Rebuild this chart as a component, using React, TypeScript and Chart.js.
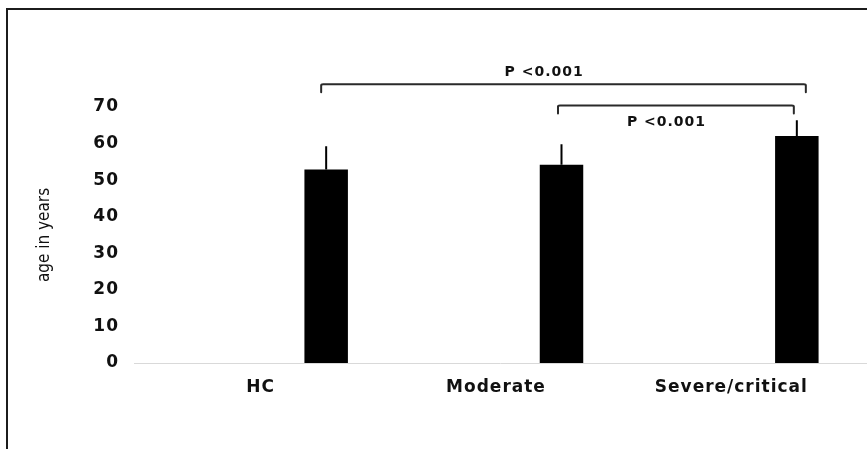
import React, { useEffect, useRef } from 'react';
import { Chart, registerables } from 'chart.js';

Chart.register(...registerables);

const categories = ['HC', 'Moderate', 'Severe/critical'];
const meanAge = [52.9, 54.2, 62.1];
const sdAge = [6.4, 5.6, 4.3];
const yMin = 0;
const yMax = 70;
const yStep = 10;
const yTitle = 'age in years';

const bracketFrom = [0, 1];
const bracketTo = [2, 2];
const bracketLevel = [76.2, 70.4];
const bracketLabelLevel = [79.5, 65.9];
const bracketLabels = ['P <0.001', 'P <0.001'];

const BOLD = "'DejaVu Sans', 'Open Sans', sans-serif";

const annotPlugin = {
  id: 'annot',
  beforeDraw(chart: any) {
    chart.ctx.letterSpacing = '0px';
  },
  beforeDatasetsDraw(chart: any) {
    const { ctx, chartArea, scales } = chart;
    const y0 = Math.round(scales.y.getPixelForValue(0)) + 0.5;
    ctx.save();
    ctx.strokeStyle = '#d9d9d9';
    ctx.lineWidth = 1;
    ctx.beginPath();
    ctx.moveTo(chartArea.left - 9, y0);
    ctx.lineTo(chart.width, y0);
    ctx.stroke();
    ctx.restore();
  },
  afterDatasetsDraw(chart: any) {
    const { ctx, scales } = chart;
    const meta = chart.getDatasetMeta(1);
    ctx.save();
    ctx.strokeStyle = '#000';
    ctx.lineWidth = 2;
    ctx.beginPath();
    meta.data.forEach((bar: any, i: number) => {
      ctx.moveTo(bar.x, scales.y.getPixelForValue(meanAge[i]));
      ctx.lineTo(bar.x, scales.y.getPixelForValue(meanAge[i] + sdAge[i]));
    });
    ctx.stroke();
    ctx.restore();
    ctx.letterSpacing = '1px';
  },
  afterDraw(chart: any) {
    const { ctx, scales } = chart;
    ctx.letterSpacing = '0px';
    const meta = chart.getDatasetMeta(1);
    const nudge = [
      [-5, 9],
      [-3.5, -3],
    ];
    ctx.save();
    ctx.strokeStyle = '#2a2a2a';
    ctx.lineWidth = 2;
    ctx.lineCap = 'round';
    ctx.lineJoin = 'round';
    bracketLabels.forEach((label, k) => {
      const x1 = meta.data[bracketFrom[k]].x + nudge[k][0];
      const x2 = meta.data[bracketTo[k]].x + nudge[k][1];
      const yl = scales.y.getPixelForValue(bracketLevel[k]);
      ctx.beginPath();
      ctx.moveTo(x1, yl + 8);
      ctx.lineTo(x1, yl + 1);
      ctx.quadraticCurveTo(x1, yl, x1 + 2, yl);
      ctx.lineTo(x2 - 2, yl);
      ctx.quadraticCurveTo(x2, yl, x2, yl + 1);
      ctx.lineTo(x2, yl + 8);
      ctx.stroke();
      const lx = x1 + (x2 - x1) * 0.46;
      const ly = scales.y.getPixelForValue(bracketLabelLevel[k]);
      ctx.letterSpacing = '1px';
      ctx.font = `bold 14px ${BOLD}`;
      ctx.fillStyle = '#111';
      ctx.textAlign = 'center';
      ctx.textBaseline = 'middle';
      ctx.fillText(label, lx, ly);
      ctx.letterSpacing = '0px';
    });
    ctx.restore();
  },
};

export default function App() {
  const ref = useRef<HTMLCanvasElement | null>(null);

  useEffect(() => {
    if (!ref.current) return;
    const chart = new Chart(ref.current, {
      type: 'bar',
      data: {
        labels: categories,
        datasets: [
          {
            label: '',
            data: categories.map(() => null),
            backgroundColor: '#000',
          },
          {
            label: 'age',
            data: meanAge,
            backgroundColor: '#000',
            borderWidth: 0,
          } as any,
        ],
      },
      options: {
        responsive: false,
        animation: false,
        events: [],
        datasets: {
          bar: { categoryPercentage: 1.1133, barPercentage: 0.332 },
        } as any,
        layout: { padding: { top: 107, right: 18, left: 0, bottom: 0 } },
        plugins: {
          legend: { display: false },
          tooltip: { enabled: false },
          title: { display: false },
        },
        scales: {
          x: {
            grid: { display: false, drawTicks: false },
            border: { display: false },
            ticks: {
              z: 1,
              color: '#111',
              padding: 14,
              maxRotation: 0,
              autoSkip: false,
              font: { family: BOLD, weight: 'bold', size: 17 },
            },
            afterFit: (s: any) => {
              s.height = 86;
            },
          },
          y: {
            min: yMin,
            max: yMax,
            grid: { display: false, drawTicks: false },
            border: { display: false },
            ticks: {
              z: 1,
              stepSize: yStep,
              color: '#111',
              padding: 24,
              font: { family: BOLD, weight: 'bold', size: 17 },
            },
            title: {
              display: true,
              text: yTitle,
              color: '#111',
              padding: { top: 34, bottom: 0 },
              font: {
                family: "'DejaVu Sans Condensed', 'Liberation Sans Narrow', sans-serif",
                size: 17,
                weight: 'normal',
              },
            },
            afterFit: (s: any) => {
              s.width = 143;
            },
          },
        },
      },
      plugins: [annotPlugin],
    });
    return () => chart.destroy();
  }, []);

  return (
    <div
      style={{
        position: 'absolute',
        left: 0,
        top: 0,
        width: 867,
        height: 449,
        overflow: 'hidden',
        background: '#fff',
      }}
    >
      <div
        style={{
          position: 'absolute',
          left: 6,
          top: 8,
          width: 1000,
          height: 1000,
          borderLeft: '2px solid #1c1c1c',
          borderTop: '2px solid #1c1c1c',
          pointerEvents: 'none',
        }}
      />
      <canvas
        ref={ref}
        width={867}
        height={449}
        style={{ position: 'absolute', left: 0, top: 0, width: 867, height: 449 }}
      />
    </div>
  );
}
